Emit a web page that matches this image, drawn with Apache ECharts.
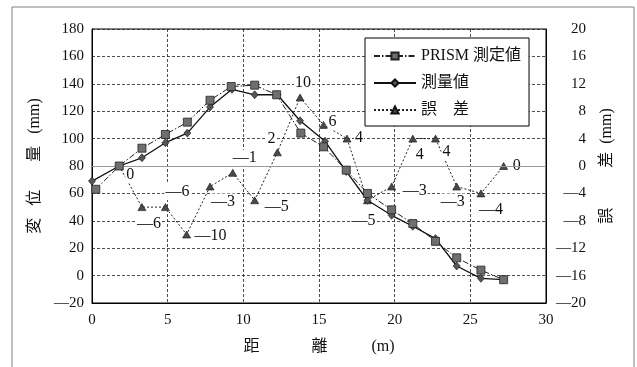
<!DOCTYPE html>
<html>
<head>
<meta charset="utf-8">
<script src="https://cdn.jsdelivr.net/npm/echarts@6/dist/echarts.min.js"></script>
<style>
html,body{margin:0;padding:0;background:#fff;}
#c{width:637px;height:367px;}
</style>
</head>
<body>
<div id="c"></div>
<script>
// ---- data ----
const xTicks = [0, 5, 10, 15, 20, 25, 30];
const leftTicks = [-20, 0, 20, 40, 60, 80, 100, 120, 140, 160, 180];
const rightTicks = [-20, -16, -12, -8, -4, 0, 4, 8, 12, 16, 20];

const prismDist = [0.25, 1.8, 3.3, 4.85, 6.3, 7.8, 9.2, 10.75, 12.2, 13.8, 15.3, 16.8, 18.2, 19.8, 21.2, 22.7, 24.1, 25.7, 27.2];
const prismVals = [63, 80, 93, 103, 112, 128, 138, 139, 132, 104, 94, 77, 60, 48, 38, 25, 13, 4, -3];

const measDist = [0, 1.8, 3.3, 4.85, 6.3, 7.8, 9.25, 10.75, 12.25, 13.75, 15.4, 16.8, 18.2, 19.8, 21.2, 22.7, 24.1, 25.7, 27.2];
const measVals = [69, 80, 86, 97, 104, 123, 136, 132, 132, 113, 98, 76, 55, 44, 36, 27, 7, -2, -3];

const errDist = [1.8, 3.3, 4.85, 6.25, 7.8, 9.3, 10.75, 12.25, 13.75, 15.3, 16.85, 18.2, 19.8, 21.2, 22.7, 24.1, 25.7, 27.2];
const errVals = [0, -6, -6, -10, -3, -1, -5, 2, 10, 6, 4, -5, -3, 4, 4, -3, -4, 0];

const seriesNames = ['PRISM 測定値', '測量値', '誤　差'];

// label placement for error values (pixel offsets from the marker)
const errLabelOffset = [[11,9],[7,17],[12,-15],[24,1],[13,15],[12,-15],[22,7],[-6,-14],[3,-15],[9,-3],[12,-1],[-4,21],[23,4],[7,16],[11,13],[-4,15],[10,16],[13,0]];

// ---- chart ----
const SERIF = '"Liberation Serif", "DejaVu Serif", "Noto Sans CJK JP", serif';
const JP = '"Liberation Serif", "Noto Sans CJK JP", serif';
const minusFmt = v => (v < 0 ? '—' + Math.abs(v) : String(v));

const pairs = (xs, ys) => xs.map((x, i) => [x, ys[i]]);

const chart = echarts.init(document.getElementById('c'), null, {renderer: 'canvas'});
chart.setOption({
  animation: false,
  backgroundColor: '#fff',
  graphic: [{
    type: 'rect',
    shape: {x: 12, y: 7, width: 622, height: 380},
    style: {fill: 'none', stroke: '#808080', lineWidth: 1},
    silent: true, z: -1
  }],
  grid: {left: 92, right: 91, top: 29, bottom: 64, show: true, borderColor: '#000', borderWidth: 1, backgroundColor: 'transparent'},
  legend: {
    data: seriesNames,
    orient: 'vertical',
    left: 365, top: 38,
    backgroundColor: '#fff',
    borderColor: '#000', borderWidth: 1,
    padding: [10, 8, 8, 8],
    itemGap: 11,
    itemWidth: 42, itemHeight: 9,
    textStyle: {fontFamily: JP, fontSize: 16, color: '#111'},
    z: 20
  },
  xAxis: {
    type: 'value', min: 0, max: 30, interval: 5,
    name: '距　　　 離　　   (m)',
    nameLocation: 'middle', nameGap: 36,
    nameTextStyle: {fontFamily: JP, fontSize: 16, color: '#111'},
    axisLine: {show: true, onZero: false, lineStyle: {color: '#000', width: 1}},
    axisTick: {show: false},
    axisLabel: {fontFamily: SERIF, fontSize: 15, color: '#111', margin: 10},
    splitLine: {show: true, lineStyle: {color: '#222', type: [3, 2], width: 0.8}}
  },
  yAxis: [{
    type: 'value', min: -20, max: 180, interval: 20,
    name: '変   位　   量   (mm)',
    nameLocation: 'middle', nameRotate: 90, nameGap: 41,
    nameTextStyle: {fontFamily: JP, fontSize: 16, color: '#111'},
    axisLine: {show: true, onZero: false, lineStyle: {color: '#000', width: 1}},
    axisTick: {show: false},
    axisLabel: {fontFamily: SERIF, fontSize: 15, color: '#111', margin: 8, formatter: minusFmt},
    splitLine: {show: true, lineStyle: {color: '#222', type: [3, 2], width: 0.8}}
  }, {
    type: 'value', min: -20, max: 20, interval: 4,
    position: 'right',
    name: '誤　　  差  (mm)',
    nameLocation: 'middle', nameRotate: 90, nameGap: 53,
    nameTextStyle: {fontFamily: JP, fontSize: 16, color: '#111'},
    axisLine: {show: true, onZero: false, lineStyle: {color: '#000', width: 1}},
    axisTick: {show: false},
    axisLabel: {fontFamily: SERIF, fontSize: 15, color: '#111', margin: 40, align: 'right', formatter: minusFmt},
    splitLine: {show: false}
  }],
  series: [{
    name: seriesNames[2],
    type: 'line',
    yAxisIndex: 1,
    data: pairs(errDist, errVals).map((p, i) => ({
      value: p,
      label: {offset: errLabelOffset[i]}
    })),
    symbol: 'triangle', symbolSize: [8, 7],
    itemStyle: {color: '#4a4a4a', borderColor: '#111', borderWidth: 0.6},
    lineStyle: {color: '#222', width: 1, type: [2, 2]},
    label: {
      show: true, position: 'inside', align: 'center', verticalAlign: 'middle',
      fontFamily: SERIF, fontSize: 16, color: '#111',
      backgroundColor: '#fff', padding: [0, 1],
      formatter: p => minusFmt(p.value[1])
    },
    markLine: {
      silent: true, symbol: 'none',
      label: {show: false},
      lineStyle: {color: '#999', type: 'solid', width: 1},
      data: [{yAxis: 0}]
    },
    z: 3
  }, {
    name: seriesNames[1],
    type: 'line',
    data: pairs(measDist, measVals),
    symbol: 'diamond', symbolSize: [7, 8],
    itemStyle: {color: '#555', borderColor: '#111', borderWidth: 0.6},
    lineStyle: {color: '#111', width: 1.3, type: 'solid'},
    z: 4
  }, {
    name: seriesNames[0],
    type: 'line',
    data: pairs(prismDist, prismVals),
    symbol: 'rect', symbolSize: 8,
    itemStyle: {color: '#6f6f6f', borderColor: '#222', borderWidth: 0.8},
    lineStyle: {color: '#222', width: 1, type: [6, 2, 1.5, 2]},
    z: 5
  }]
});
</script>
</body>
</html>
